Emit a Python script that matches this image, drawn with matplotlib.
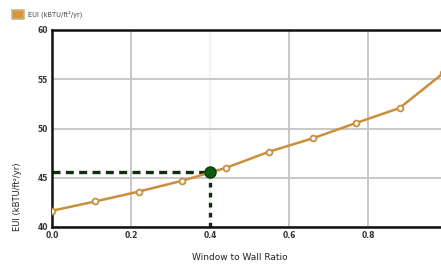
import matplotlib
matplotlib.use("Agg")
import matplotlib.pyplot as plt
from matplotlib.patches import Patch

# Data
wwr = [0.0, 0.11, 0.22, 0.33, 0.44, 0.55, 0.66, 0.77, 0.88, 0.99]
eui = [41.65, 42.6, 43.6, 44.7, 46.0, 47.65, 49.0, 50.56, 52.08, 55.6]
sel_x = 0.4
sel_y = 45.6
xticks = [0.0, 0.2, 0.4, 0.6, 0.8, 1.0]
xtick_labels = ["0.0", "0.2", "0.4", "0.6", "0.8", "1"]
yticks = [40, 45, 50, 55, 60]
ytick_labels = ["40", "45", "50", "55", "60"]
series_label = "EUI (kBTU/ft²/yr)"

W, H = 441, 265
fig = plt.figure(figsize=(W / 100, H / 100), dpi=100)
ax = fig.add_axes([52 / W, 1 - 227 / H, (447 - 52) / W, (227 - 30) / H])

line_color = "#c98f3c"
ax.plot(wwr, eui, color=line_color, lw=1.8, zorder=3)
ax.plot(wwr, eui, linestyle="none", marker="o", markersize=4.2,
        markerfacecolor="white", markeredgecolor=line_color,
        markeredgewidth=1.3, zorder=4)

dash_col = "#102e10"
ax.plot([0, sel_x], [sel_y, sel_y], color=dash_col, lw=2.4,
        linestyle=(0, (2.4, 1.6)), zorder=2)
ax.plot([sel_x, sel_x], [40, sel_y], color=dash_col, lw=2.4,
        linestyle=(0, (1.4, 1.6)), zorder=2)
ax.plot([sel_x], [sel_y], marker="o", markersize=8, color="#0d5c0d",
        markeredgecolor="#0a400a", zorder=5)

ax.set_xlim(0, 1.0)
ax.set_ylim(40, 60)
ax.set_xticks(xticks)
ax.set_xticklabels(xtick_labels)
ax.set_yticks(yticks)
ax.set_yticklabels(ytick_labels)
ax.tick_params(length=0, labelsize=5.5, colors="#333333", pad=3)
for lbl in ax.get_xticklabels() + ax.get_yticklabels():
    lbl.set_fontweight("bold")

ax.grid(True, color="#c4c4c4", lw=1.3, zorder=0)
ax.xaxis.get_gridlines()[2].set_alpha(0.25)

for s in ["left", "bottom", "top"]:
    ax.spines[s].set_color("#111111")
    ax.spines[s].set_linewidth(1.8)
ax.spines["right"].set_visible(False)

fig.text(240 / W, 1 - 257 / H, "Window to Wall Ratio", ha="center", va="center",
         fontsize=6.5, color="#222222")
fig.text(17 / W, 1 - 197 / H, "EUI (kBTU/ft²/yr)", rotation=90, ha="center",
         va="center", fontsize=6, color="#222222")

handle = Patch(facecolor="#d9953a", edgecolor="#c8b590", linewidth=1.2)
fig.legend([handle], [series_label], loc="upper left",
           bbox_to_anchor=(12 / W, 1 - 10 / H), frameon=False, fontsize=4.8,
           handlelength=1.8, handleheight=1.8, handletextpad=0.6,
           borderaxespad=0, borderpad=0, labelcolor="#444444")

fig.savefig("out.png", dpi=100)
